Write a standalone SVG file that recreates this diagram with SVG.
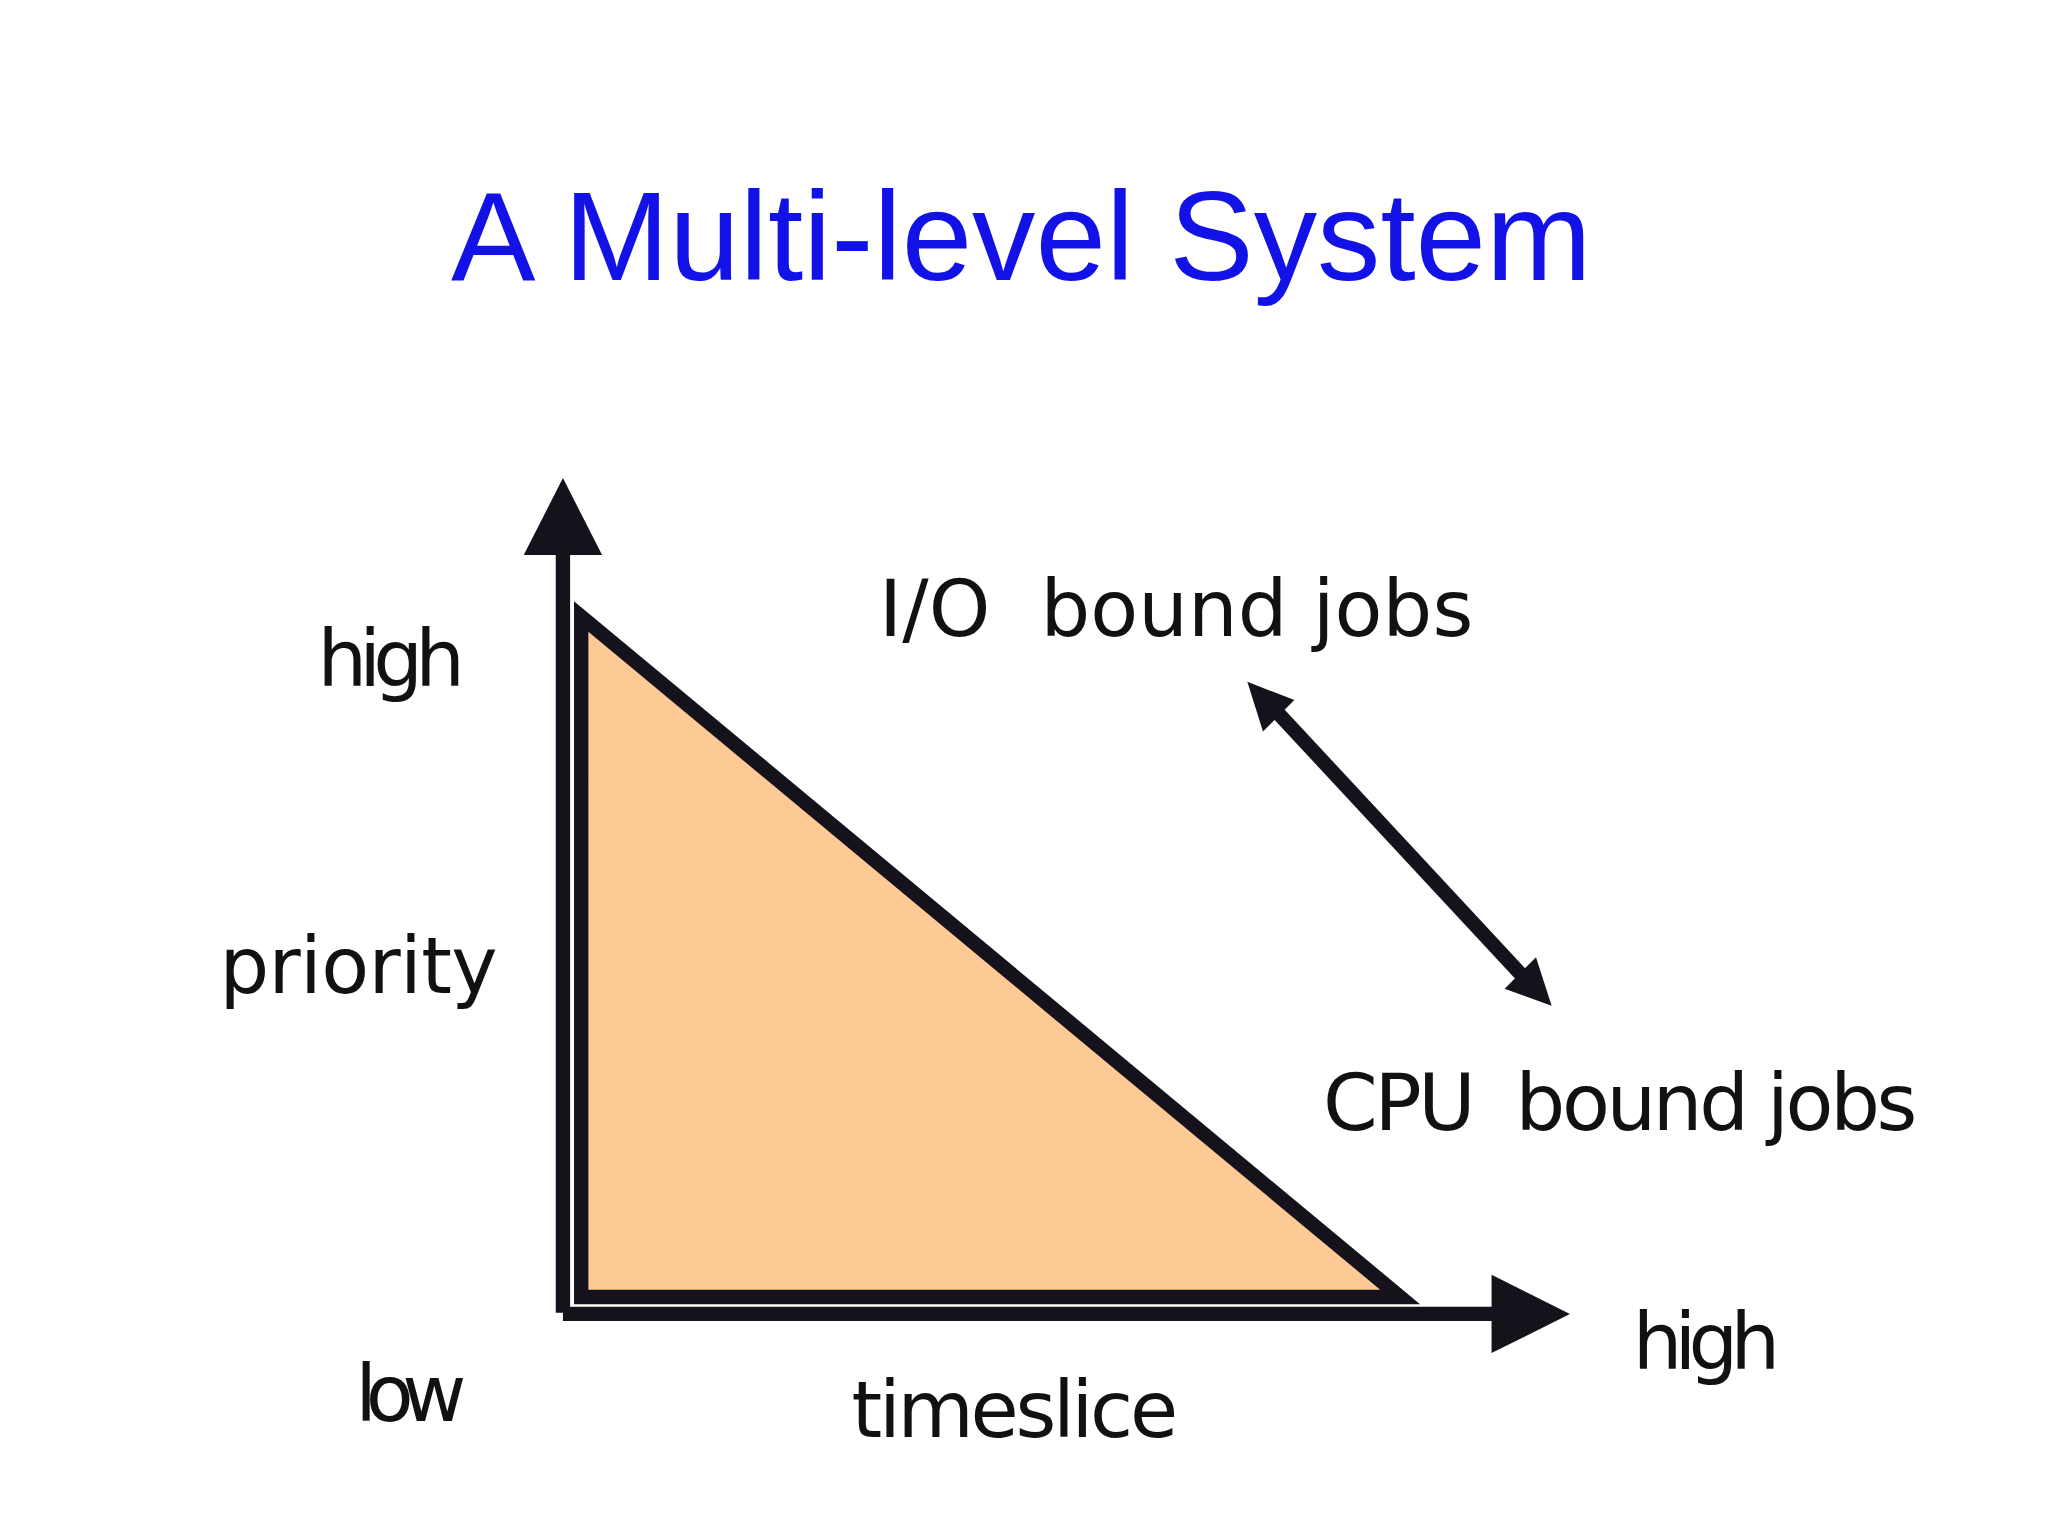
<svg xmlns="http://www.w3.org/2000/svg" width="2048" height="1536" viewBox="0 0 2048 1536">
<style>
.t{font-family:"DejaVu Sans","Liberation Sans",sans-serif;font-size:60px;fill:#111}
.ax{stroke:#15121c;stroke-width:11;fill:none}
.hd{fill:#15121c}
</style>
<rect width="2048" height="1536" fill="#fff"/>
<g transform="scale(1.3061)">
<text x="782" y="214" text-anchor="middle" font-family="Liberation Sans, Arial, sans-serif" font-size="97" fill="#1212e6">A Multi-level System</text>
<g id="triangle"><polygon points="445,472 445,993 1072,993" fill="#fdca96" stroke="#15121c" stroke-width="11" stroke-linejoin="miter"/></g>
<g id="connectors">
<line class="ax" x1="431" y1="1005" x2="431" y2="420"/>
<polygon class="hd" points="401,425 461,425 431,366"/>
<line class="ax" x1="431" y1="1006" x2="1146" y2="1006"/>
<polygon class="hd" points="1142,976 1142,1036 1202,1006"/>
<line class="ax" stroke-width="8" x1="973" y1="540" x2="1170" y2="752"/>
<polygon class="hd" points="955,522 991,536 967,560"/>
<polygon class="hd" points="1188,770 1152,757 1176,733"/>
</g>
<g id="labels">
<text class="t" x="243" y="525" textLength="113">high</text>
<text class="t" x="168" y="760" textLength="213">priority</text>
<text class="t" x="272" y="1088" textLength="85">low</text>
<text class="t" x="652" y="1100" textLength="250">timeslice</text>
<text class="t" x="1250" y="1048" textLength="113">high</text>
<text class="t" x="673" y="487" textLength="455" xml:space="preserve">I/O  bound jobs</text>
<text class="t" x="1013" y="865" textLength="455" xml:space="preserve">CPU  bound jobs</text>
</g>
</g>
</svg>
